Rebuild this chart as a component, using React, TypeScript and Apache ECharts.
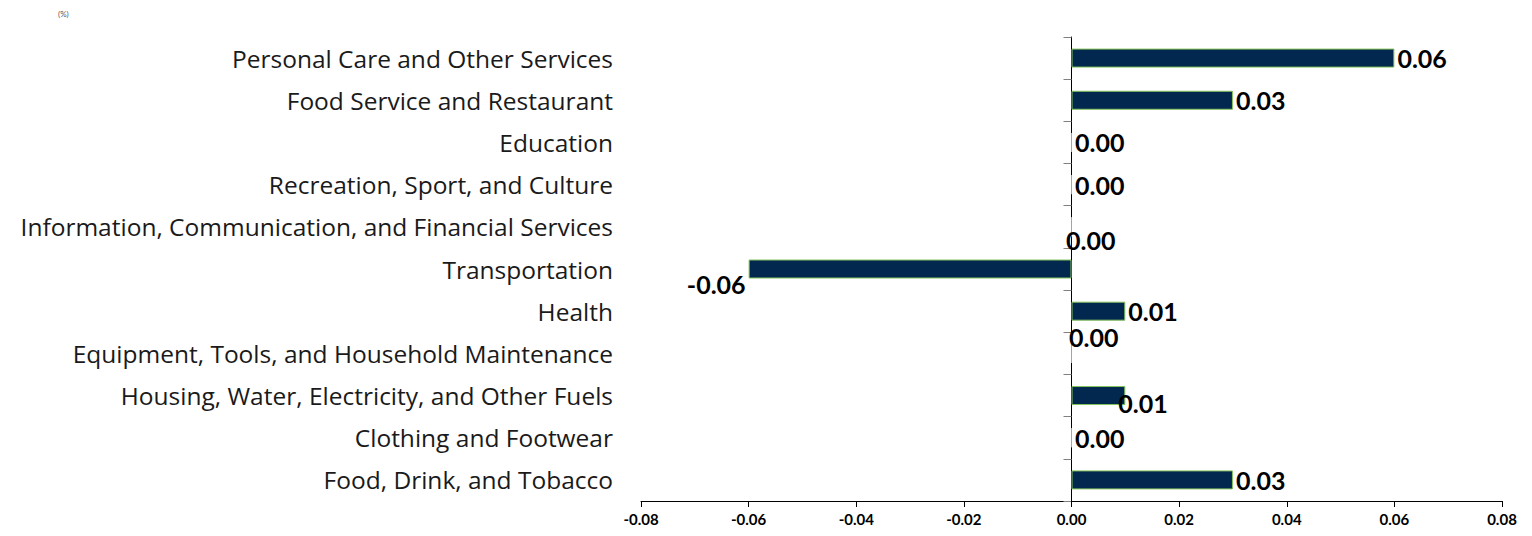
import React, { useEffect, useRef } from "react";
import * as echarts from "echarts";

const categories = [
  "Personal Care and Other Services",
  "Food Service and Restaurant",
  "Education",
  "Recreation, Sport, and Culture",
  "Information, Communication, and Financial Services",
  "Transportation",
  "Health",
  "Equipment, Tools, and Household Maintenance",
  "Housing, Water, Electricity, and Other Fuels",
  "Clothing and Footwear",
  "Food, Drink, and Tobacco",
];

const values = [0.06, 0.03, 0.0, 0.0, 0.0, -0.06, 0.01, 0.0, 0.01, 0.0, 0.03];

const xTicks = { min: -0.08, max: 0.08, interval: 0.02 };

const unitLabel = "(%)";

// label nudges (Excel hand-moved labels)
const labelOffsets: Record<number, [number, number]> = {
  4: [-9, 13],
  5: [0, 15],
  7: [-6, -16],
  8: [-10, 7],
};

export default function App() {
  const ref = useRef<HTMLDivElement>(null);

  useEffect(() => {
    if (!ref.current) return;
    const chart = echarts.init(ref.current, null, { renderer: "svg" });
    const font = "Lato, 'Noto Sans', sans-serif";
    const catFont = "'Open Sans', 'Noto Sans', sans-serif";

    const data = values.map((v, i) => {
      const item: any = { value: v };
      const off = labelOffsets[i];
      const label: any = { position: v < 0 ? "left" : "right" };
      if (off) label.offset = off;
      item.label = label;
      return item;
    });

    chart.setOption({
      animation: false,
      textStyle: { fontFamily: font },
      graphic: [
        {
          type: "text",
          left: 58,
          top: 10,
          style: { text: unitLabel, fontSize: 8, fill: "#595959", fontFamily: font },
        },
      ],
      grid: { left: 641, right: 30, top: 37, bottom: 35, containLabel: false },
      xAxis: {
        type: "value",
        min: xTicks.min,
        max: xTicks.max,
        interval: xTicks.interval,
        splitLine: { show: false },
        axisLine: { show: true, onZero: false, lineStyle: { color: "#000", width: 1 } },
        axisTick: { show: true, length: 6, lineStyle: { color: "#000" } },
        axisLabel: {
          color: "#000",
          fontWeight: "bold",
          fontSize: 15,
          margin: 10,
          fontFamily: font,
          formatter: (v: number) => v.toFixed(2),
        },
      },
      yAxis: [
        {
          type: "category",
          data: categories,
          inverse: true,
          position: "left",
          axisLine: { show: false, onZero: false },
          axisTick: { show: false },
          axisLabel: { color: "#1a1a1a", fontSize: 24.5, margin: 28, fontFamily: catFont },
        },
        {
          type: "category",
          data: categories,
          inverse: true,
          position: "left",
          axisLine: { show: true, onZero: true, lineStyle: { color: "#000", width: 1 } },
          axisTick: { show: true, length: 8, lineStyle: { color: "#808080" } },
          axisLabel: { show: false },
        },
      ],
      series: [
        {
          type: "bar",
          yAxisIndex: 0,
          data,
          barWidth: 19,
          itemStyle: { color: "#03284F", borderColor: "#84C35A", borderWidth: 1 },
          label: {
            show: true,
            distance: 3,
            color: "#000",
            fontWeight: "bold",
            fontSize: 25,
            fontFamily: font,
            formatter: (p: any) => Number(p.value).toFixed(2),
          },
        },
      ],
    });

    return () => chart.dispose();
  }, []);

  return (
    <div
      ref={ref}
      style={{ position: "fixed", left: 0, top: 0, width: 1532, height: 536, background: "#fff" }}
    />
  );
}
